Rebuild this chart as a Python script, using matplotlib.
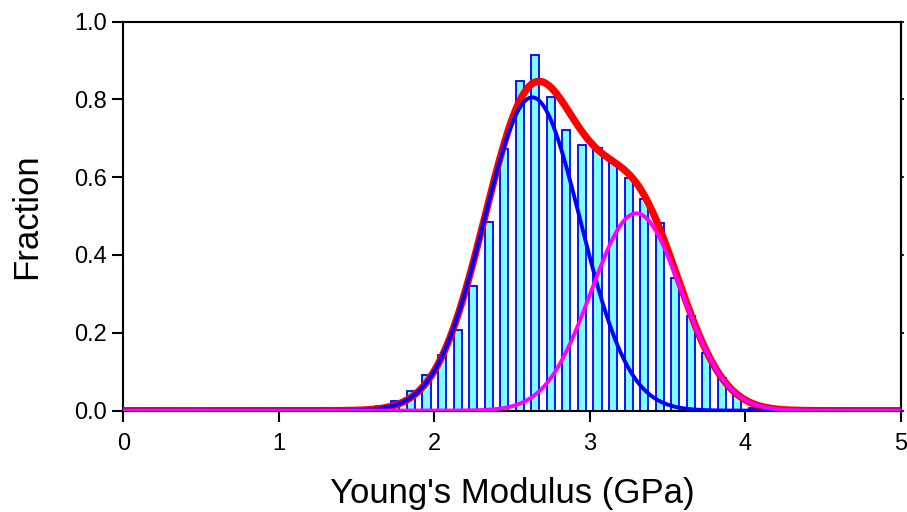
import numpy as np
import matplotlib.pyplot as plt

plt.rcParams['font.family'] = ['Liberation Sans', 'DejaVu Sans']

# histogram bins (centres, GPa) and fractions
bin_centers = [1.25, 1.35, 1.45, 1.55, 1.65, 1.75, 1.85, 1.95, 2.05, 2.15,
               2.25, 2.35, 2.45, 2.55, 2.65, 2.75, 2.85, 2.95, 3.05, 3.15,
               3.25, 3.35, 3.45, 3.55, 3.65, 3.75, 3.85, 3.95, 4.05]
fractions = [0.001, 0.002, 0.003, 0.004, 0.011, 0.024, 0.051, 0.091, 0.143, 0.207,
             0.319, 0.484, 0.673, 0.848, 0.914, 0.807, 0.721, 0.682, 0.674, 0.639,
             0.597, 0.543, 0.482, 0.342, 0.243, 0.149, 0.083, 0.043, 0.006]

# gaussian peak fits: amplitude, centre, width (sigma)
peak1 = (0.805, 2.63, 0.31)
peak2 = (0.507, 3.30, 0.29)

xticks = [0, 1, 2, 3, 4, 5]
yticks = [0.0, 0.2, 0.4, 0.6, 0.8, 1.0]


def gauss(x, p):
    a, c, s = p
    return a * np.exp(-(x - c) ** 2 / (2 * s ** 2))


fig = plt.figure(figsize=(9.07, 5.12), dpi=100)
ax = fig.add_axes([0.136, 0.198, 0.857, 0.760])

ax.bar(bin_centers, fractions, width=0.052, color='#80ffff',
       edgecolor='#0000ff', linewidth=1.3, zorder=2)

xs = np.linspace(0, 5, 600)
y1 = gauss(xs, peak1)
y2 = gauss(xs, peak2)
ax.plot(xs, y1 + y2, color='#ff0000', lw=5.2, zorder=3)
ax.plot(xs, y1, color='#0000ff', lw=2.8, zorder=4)
ax.plot(xs, y2, color='#ff00ff', lw=2.8, zorder=5)

ax.set_xlim(0, 5)
ax.set_ylim(0, 1.0)
ax.set_xticks(xticks)
ax.set_yticks(yticks)
ax.set_yticklabels(['%.1f' % v for v in yticks])

for s in ax.spines.values():
    s.set_linewidth(1.5)
ax.tick_params(axis='both', which='major', direction='out', length=8, width=1.5,
               labelsize=17)
ax.tick_params(axis='x', pad=8)
ax.tick_params(axis='y', pad=4)

# short ticks on the right side, no labels
sec = ax.secondary_yaxis('right')
sec.set_yticks(yticks)
sec.tick_params(length=2.5, width=1.2, labelright=False)
sec.spines['right'].set_linewidth(1.5)

ax.set_xlabel("Young's Modulus (GPa)", fontsize=25, labelpad=16)
ax.set_ylabel('Fraction', fontsize=25, labelpad=22)

fig.savefig('out.png', dpi=100)
